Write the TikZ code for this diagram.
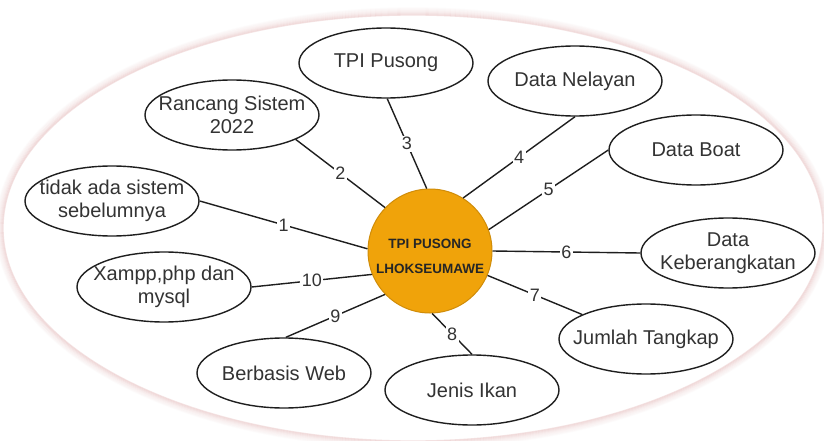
\documentclass[tikz,border=0pt]{standalone}
\usepackage{fontspec}
\setmainfont{Liberation Sans}
\usetikzlibrary{shapes.geometric}

\definecolor{inkgray}{HTML}{333333}
\definecolor{edgeink}{HTML}{1E1E1E}
\definecolor{hubfill}{HTML}{F0A30A}
\definecolor{hubline}{HTML}{D08C08}
\definecolor{glow}{RGB}{228,184,184}

\begin{document}
\begin{tikzpicture}[x=1pt,y=-1pt,
  bubble/.style={ellipse, draw=edgeink, line width=1.4pt, fill=white,
    minimum width=174pt, minimum height=70pt, inner sep=0pt},
  btext/.style={align=center, text=inkgray, inner sep=0pt,
    font=\fontsize{20}{23}\selectfont},
  hub/.style={circle, draw=hubline, line width=1pt, fill=hubfill,
    minimum size=124pt, inner sep=0pt},
  hubtext/.style={align=center, text=black!85, inner sep=0pt,
    font=\fontsize{13.5}{25}\selectfont\bfseries},
  link/.style={draw=edgeink, line width=1.4pt},
  num/.style={fill=white, text=inkgray, inner sep=1.5pt,
    font=\fontsize{18}{18}\selectfont},
]
% canvas
\useasboundingbox (0,0) rectangle (824,441);
\fill[white] (0,0) rectangle (824,441);

% soft rim of the large backdrop oval
\foreach \k/\o in {7/0.05,6/0.08,5/0.11,4/0.15,3/0.2,2/0.27,1/0.35,0/0.42}{
  \draw[glow, line width=1.3pt, opacity=\o]
    (413,228) ellipse [x radius={410+\k}, y radius={213+\k}];
}

% central topic
\node[hub] (hub) at (430,251) {};
\node[hubtext] (hubtxt) at (430,256) {TPI PUSONG\\LHOKSEUMAWE};

% surrounding topics
\node[bubble] (e1)  at (112,201) {};
\node[btext]  (t1)  at (e1)  {tidak ada sistem\\sebelumnya};
\node[bubble] (e2)  at (232,115) {};
\node[btext]  (t2)  at (e2)  {Rancang Sistem\\2022};
\node[bubble] (e3)  at (386,63)  {};
\node[btext]  (t3)  at (e3)  {TPI Pusong};
\node[bubble] (e4)  at (575,81)  {};
\node[btext]  (t4)  at (e4)  {Data Nelayan};
\node[bubble] (e5)  at (696,150) {};
\node[btext]  (t5)  at (e5)  {Data Boat};
\node[bubble] (e6)  at (728,253) {};
\node[btext]  (t6)  at (e6)  {Data\\Keberangkatan};
\node[bubble] (e7)  at (646,339) {};
\node[btext]  (t7)  at (e7)  {Jumlah Tangkap};
\node[bubble] (e8)  at (472,390) {};
\node[btext]  (t8)  at (e8)  {Jenis Ikan};
\node[bubble] (e9)  at (284,373) {};
\node[btext]  (t9)  at (e9)  {Berbasis Web};
\node[bubble] (e10) at (164,287) {};
\node[btext]  (t10) at (e10) {Xampp,php dan\\mysql};

% numbered links
\draw[link] (e1.east)  -- node[num] (n1)  {1}  (hub.178);
\draw[link] (e2.-21)   -- node[num] (n2)  {2}  (hub.136);
\draw[link] (e3.-88)   -- node[num] (n3)  {3}  (hub.93);
\draw[link] (e4.south) -- node[num] (n4)  {4}  (hub.58);
\draw[link] (e5.west)  -- node[num] (n5)  {5}  (hub.20);
\draw[link] (hub.east) -- node[num] (n6)  {6}  (e6.west);
\draw[link] (hub.-23)  -- node[num] (n7)  {7}  (e7.159);
\draw[link] (hub.-88)  -- node[num] (n8)  {8}  (e8.north);
\draw[link] (hub.224)  -- node[num] (n9)  {9}  (e9.87);
\draw[link] (e10.east) -- node[num] (n10) {10} (hub.202);
\end{tikzpicture}
\end{document}
